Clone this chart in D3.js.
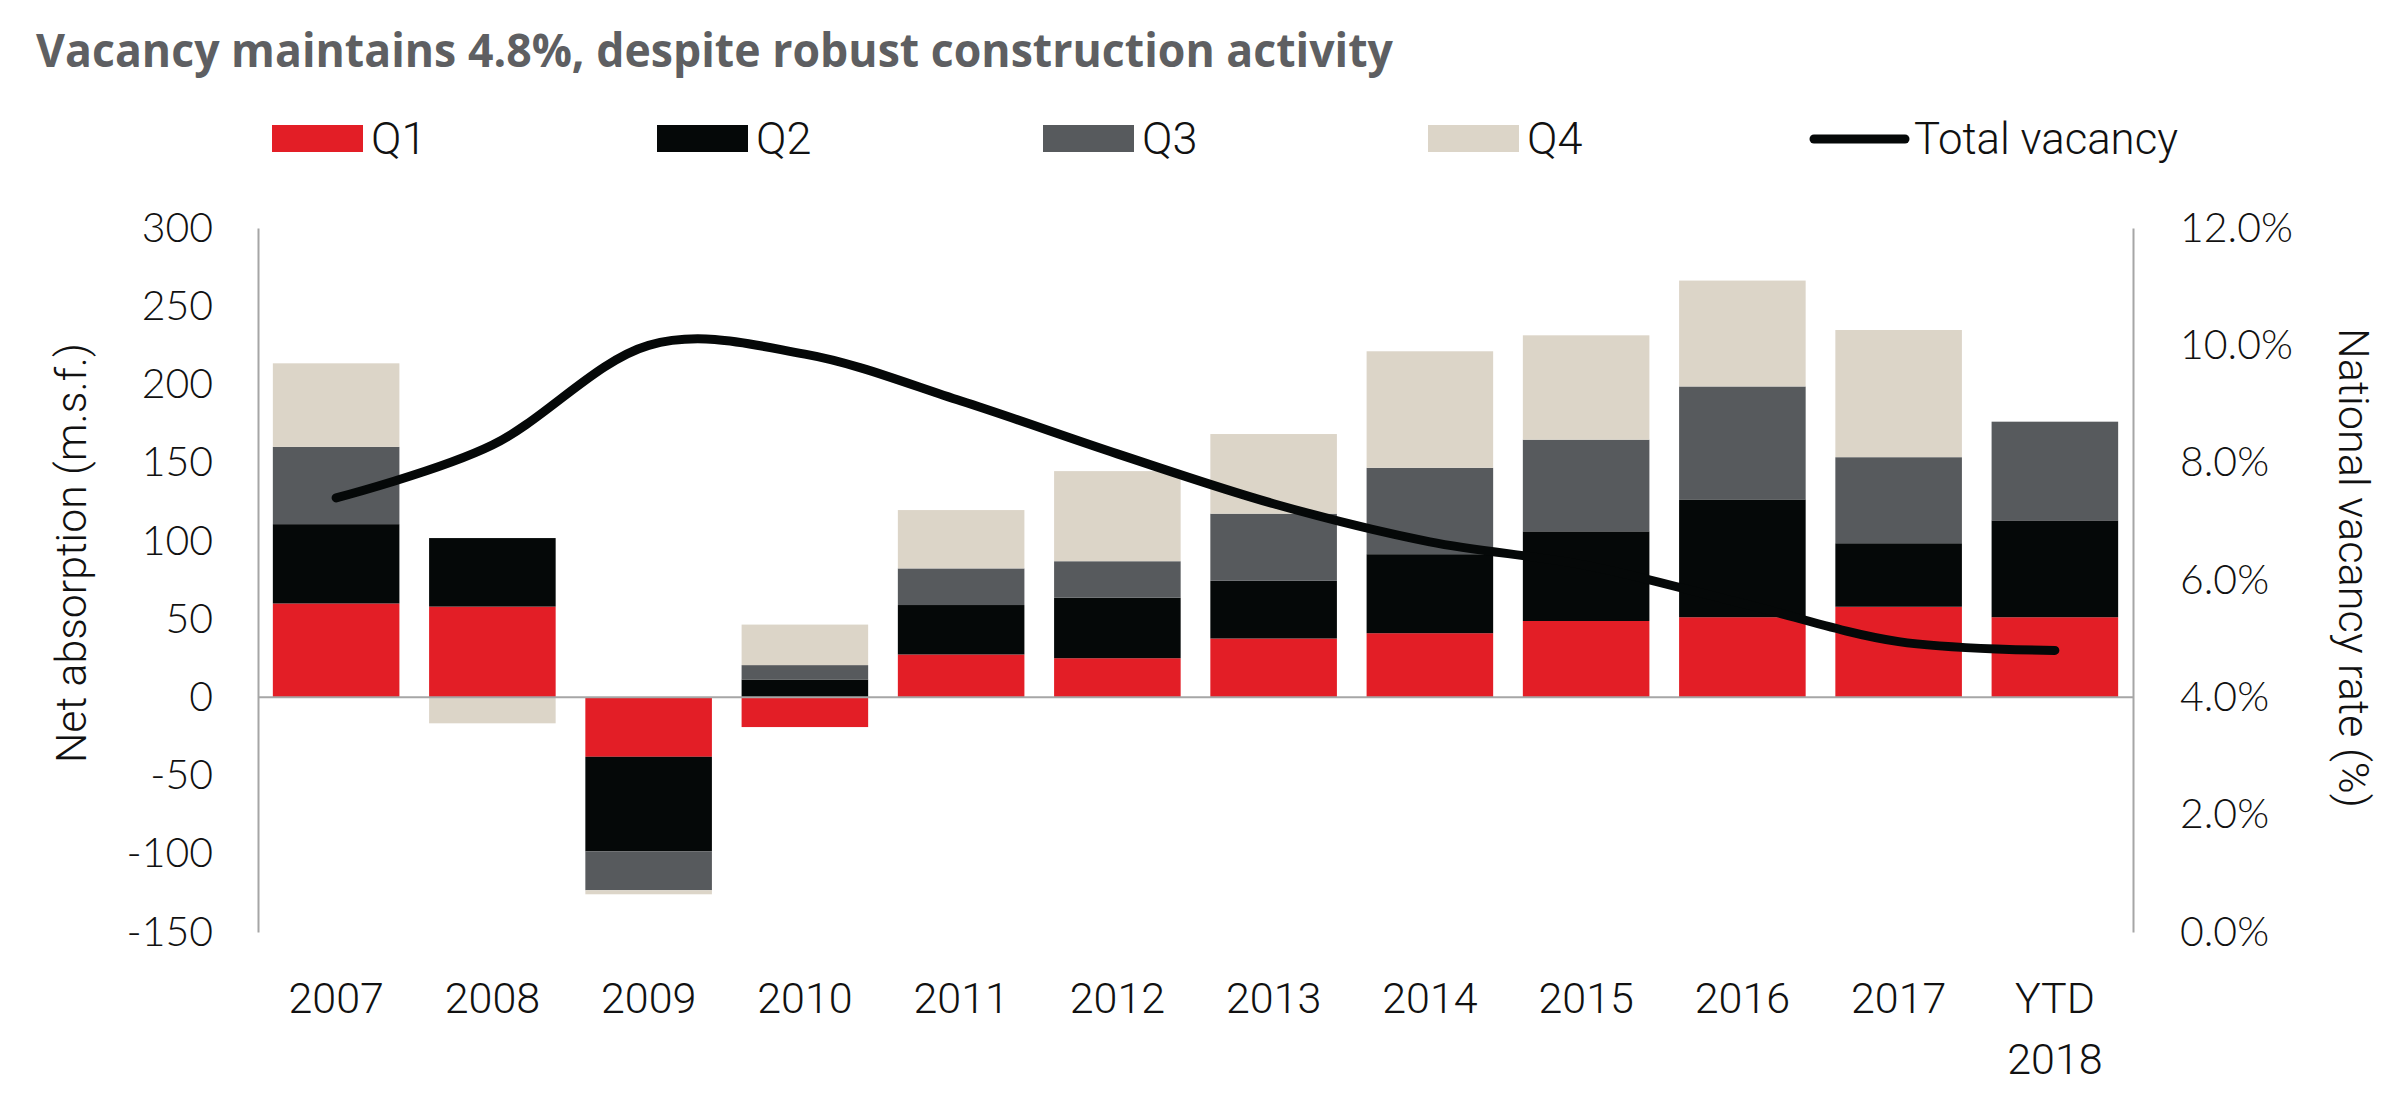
<!DOCTYPE html>
<html>
<head>
<meta charset="utf-8">
<script src="https://cdnjs.cloudflare.com/ajax/libs/d3/7.8.5/d3.min.js"></script>
<style>
  html, body { margin: 0; padding: 0; background: #ffffff; }
  svg { display: block; }
</style>
</head>
<body>
<svg id="chart" width="2400" height="1100"></svg>
<script>
// ---------------- DATA ----------------
const categories = ["2007", "2008", "2009", "2010", "2011", "2012", "2013", "2014", "2015", "2016", "2017", "YTD 2018"];
const q1 = [60.0, 58.0, -38.0, -19.0, 27.4, 25.0, 37.6, 41.0, 48.8, 51.2, 57.9, 51.2];
const q2 = [50.7, 43.8, -60.5, 11.4, 31.6, 38.7, 36.9, 50.5, 57.3, 75.3, 40.6, 61.9];
const q3 = [49.4, 0.0, -24.8, 9.2, 23.4, 23.3, 42.9, 55.2, 58.6, 72.2, 55.0, 63.1];
const q4 = [53.4, -16.6, -2.6, 25.9, 37.3, 57.6, 50.9, 74.5, 66.7, 67.7, 81.3, 0.0];
const vacancy = [7.4, 8.3, 10.0, 9.85, 9.05, 8.15, 7.3, 6.65, 6.25, 5.6, 4.95, 4.8];
const seriesNames = ["Q1", "Q2", "Q3", "Q4"];
const lineName = "Total vacancy";
const leftTicks = [-150, -100, -50, 0, 50, 100, 150, 200, 250, 300];
const rightTicks = [0, 2, 4, 6, 8, 10, 12];
const titleText = "Vacancy maintains 4.8%, despite robust construction activity";
const leftTitle = "Net absorption (m.s.f.)";
const rightTitle = "National vacancy rate (%)";

// ---------------- STYLE ----------------
const colors = { Q1: "#e31e26", Q2: "#050808", Q3: "#575a5d", Q4: "#dcd5c8" };
const lineColor = "#050808";
const axisColor = "#a6a6a6";
const condensed = "Roboto, 'Noto Sans', sans-serif";
const tickFont = "Lato, 'Open Sans', 'Noto Sans', sans-serif";

const svg = d3.select("#chart");
const plot = { left: 258, right: 2133, top: 228, bottom: 932 };

const x = d3.scaleBand().domain(categories).range([plot.left, plot.right])
  .paddingInner(0.19).paddingOuter(0.095);
const y = d3.scaleLinear().domain([-150, 300]).range([plot.bottom, plot.top]);
const y2 = d3.scaleLinear().domain([0, 12]).range([plot.bottom, plot.top]);

// table for stack
const table = categories.map((c, i) => ({ cat: c, Q1: q1[i], Q2: q2[i], Q3: q3[i], Q4: q4[i] }));
const stacked = d3.stack().keys(seriesNames).offset(d3.stackOffsetDiverging)(table);

// Title
svg.append("text")
  .attr("x", 36).attr("y", 67)
  .attr("font-family", "'Open Sans', 'Noto Sans', sans-serif")
  .attr("font-weight", 700)
  .attr("font-size", 46)
  .attr("fill", "#5e5f62")
  .attr("textLength", 1357)
  .attr("lengthAdjust", "spacingAndGlyphs")
  .text(titleText);

// Bars
const layers = svg.append("g").selectAll("g").data(stacked).join("g")
  .attr("fill", d => colors[d.key]);
layers.selectAll("rect").data(d => d).join("rect")
  .attr("x", d => x(d.data.cat))
  .attr("width", x.bandwidth())
  .attr("y", d => y(Math.max(d[0], d[1])))
  .attr("height", d => Math.abs(y(d[0]) - y(d[1])));

// Zero line
svg.append("line")
  .attr("x1", plot.left).attr("x2", plot.right)
  .attr("y1", y(0)).attr("y2", y(0))
  .attr("stroke", axisColor).attr("stroke-width", 2);

// Left axis
const gL = svg.append("g").attr("transform", `translate(${plot.left},0)`)
  .call(d3.axisLeft(y).tickValues(leftTicks).tickSize(0).tickSizeOuter(0).tickPadding(45).tickFormat(d => String(d)));
gL.select(".domain").attr("stroke", axisColor).attr("stroke-width", 2);
gL.selectAll("text").attr("font-family", tickFont).attr("font-size", 41).attr("font-weight", 300).attr("fill", "#111");

// Right axis
const gR = svg.append("g").attr("transform", `translate(${plot.right},0)`)
  .call(d3.axisRight(y2).tickValues(rightTicks).tickSize(0).tickSizeOuter(0).tickPadding(47).tickFormat(d => d.toFixed(1) + "%"));
gR.select(".domain").attr("stroke", axisColor).attr("stroke-width", 2);
gR.selectAll("text").attr("font-family", tickFont).attr("font-size", 41).attr("font-weight", 300).attr("fill", "#111");

// Bottom axis (labels only)
const gB = svg.append("g").attr("transform", `translate(0,${plot.bottom})`)
  .call(d3.axisBottom(x).tickSize(0).tickPadding(50));
gB.select(".domain").remove();
gB.selectAll("text")
  .attr("font-family", condensed).attr("font-weight", 300).attr("font-size", 43).attr("fill", "#111")
  .each(function(d) {
    const parts = d.split(" ");
    if (parts.length > 1) {
      const t = d3.select(this).text(null);
      parts.forEach((p, i) => {
        t.append("tspan").attr("x", 0).attr("dy", i === 0 ? "0.71em" : "61px").text(p);
      });
      t.attr("dy", null);
    }
  });

// Vacancy line
const line = d3.line()
  .x((d, i) => x(categories[i]) + x.bandwidth() / 2)
  .y(d => y2(d))
  .curve(d3.curveCardinal.tension(0));
svg.append("path").datum(vacancy)
  .attr("d", line)
  .attr("fill", "none")
  .attr("stroke", lineColor)
  .attr("stroke-width", 9)
  .attr("stroke-linecap", "round")
  .attr("stroke-linejoin", "round");

// Axis titles
svg.append("text")
  .attr("transform", `translate(86,553) rotate(-90)`)
  .attr("text-anchor", "middle")
  .attr("font-family", condensed).attr("font-weight", 300).attr("font-size", 43).attr("fill", "#111")
  .attr("textLength", 420).attr("lengthAdjust", "spacingAndGlyphs")
  .text(leftTitle);
svg.append("text")
  .attr("transform", `translate(2339,568) rotate(90)`)
  .attr("text-anchor", "middle")
  .attr("font-family", condensed).attr("font-weight", 300).attr("font-size", 43).attr("fill", "#111")
  .attr("textLength", 480).attr("lengthAdjust", "spacingAndGlyphs")
  .text(rightTitle);

// Legend
const legendX = [272, 657, 1043, 1428];
const legend = svg.append("g");
seriesNames.forEach((s, i) => {
  legend.append("rect")
    .attr("x", legendX[i]).attr("y", 125).attr("width", 91).attr("height", 27)
    .attr("fill", colors[s]);
  legend.append("text")
    .attr("x", legendX[i] + 99).attr("y", 154)
    .attr("font-family", condensed).attr("font-weight", 300).attr("font-size", 45).attr("fill", "#111")
    .text(s);
});
legend.append("line")
  .attr("x1", 1814).attr("x2", 1905).attr("y1", 139).attr("y2", 139)
  .attr("stroke", lineColor).attr("stroke-width", 9).attr("stroke-linecap", "round");
legend.append("text")
  .attr("x", 1914).attr("y", 154)
  .attr("font-family", condensed).attr("font-weight", 300).attr("font-size", 45).attr("fill", "#111")
  .attr("textLength", 264).attr("lengthAdjust", "spacingAndGlyphs")
  .text(lineName);
</script>
</body>
</html>
